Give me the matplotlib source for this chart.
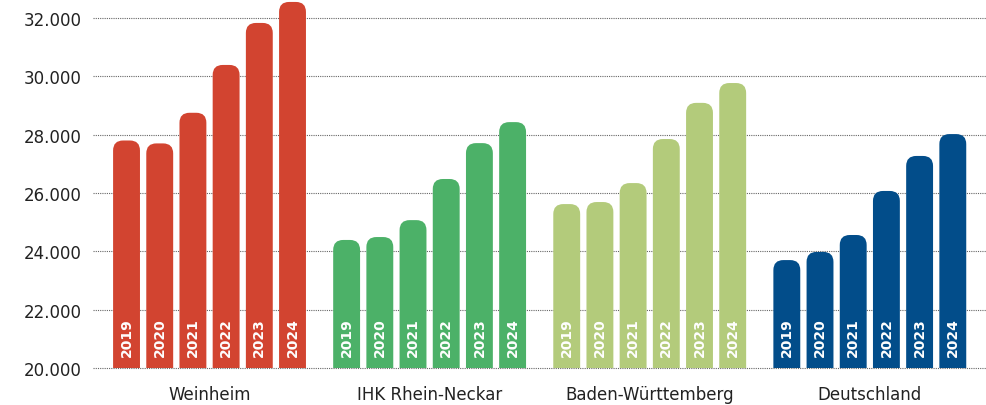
import matplotlib
matplotlib.use("Agg")
import matplotlib.pyplot as plt
from matplotlib.patches import FancyBboxPatch
from matplotlib.transforms import blended_transform_factory

regions = ["Weinheim", "IHK Rhein-Neckar", "Baden-Württemberg", "Deutschland"]
years = ["2019", "2020", "2021", "2022", "2023", "2024"]
weinheim = [27800, 27700, 28750, 30390, 31830, 32550]
ihk = [24390, 24490, 25070, 26480, 27710, 28430]
bw = [25620, 25690, 26340, 27850, 29090, 29770]
deutschland = [23700, 23980, 24560, 26070, 27270, 28020]
series = [weinheim, ihk, bw, deutschland]
colors = ["#D24430", "#4CB168", "#B3CB7B", "#024D8A"]
yticks = [20000, 22000, 24000, 26000, 28000, 30000, 32000]
ytick_labels = ["20.000", "22.000", "24.000", "26.000", "28.000", "30.000", "32.000"]

fig = plt.figure(figsize=(9.86, 4.06), dpi=100)
ax = fig.add_axes([93/986, 37/406, 1 - 93/986, 1 - 37/406])

ymin, ymax = 20000, 32651
xmin, xmax = -3.51, 23.39
ax.set_ylim(ymin, ymax)
ax.set_xlim(xmin, xmax)

group_gap = 6.63
width = 0.81
px_x = (xmax - xmin) / (986 - 93)
px_y = (ymax - ymin) / (406 - 37)
r_px = 10
r_x = r_px * px_x
aspect = px_y / px_x

trans_lbl = blended_transform_factory(ax.transData, ax.transAxes)
for g, (vals, col, name) in enumerate(zip(series, colors, regions)):
    center = g * group_gap
    for i, (v, yr) in enumerate(zip(vals, years)):
        x = center + (i - 2.5)
        base = ymin - 2000
        p = FancyBboxPatch((x - width/2, base), width, v - base,
                           boxstyle=f"round,pad=0,rounding_size={r_x}",
                           mutation_aspect=aspect,
                           facecolor=col, edgecolor="none", zorder=3)
        ax.add_patch(p)
        ax.text(x, ymin + 12 * px_y, yr, rotation=90, ha="center", va="bottom",
                color="white", fontsize=10, fontweight="bold",
                family="DejaVu Sans", zorder=4)
    ax.text(center, -26/369, name, transform=trans_lbl, ha="center", va="center",
            fontsize=12, color="#222222")

ax.set_yticks(yticks)
ax.set_yticklabels(ytick_labels, fontsize=12, color="#222222")
ax.tick_params(axis="y", length=0, pad=8)
ax.set_xticks([])
for s in ax.spines.values():
    s.set_visible(False)
for t in yticks:
    ax.axhline(t, color="#666666", lw=0.8, ls=(0, (1, 1)), zorder=1, clip_on=False)

fig.savefig("out.png", dpi=100)
